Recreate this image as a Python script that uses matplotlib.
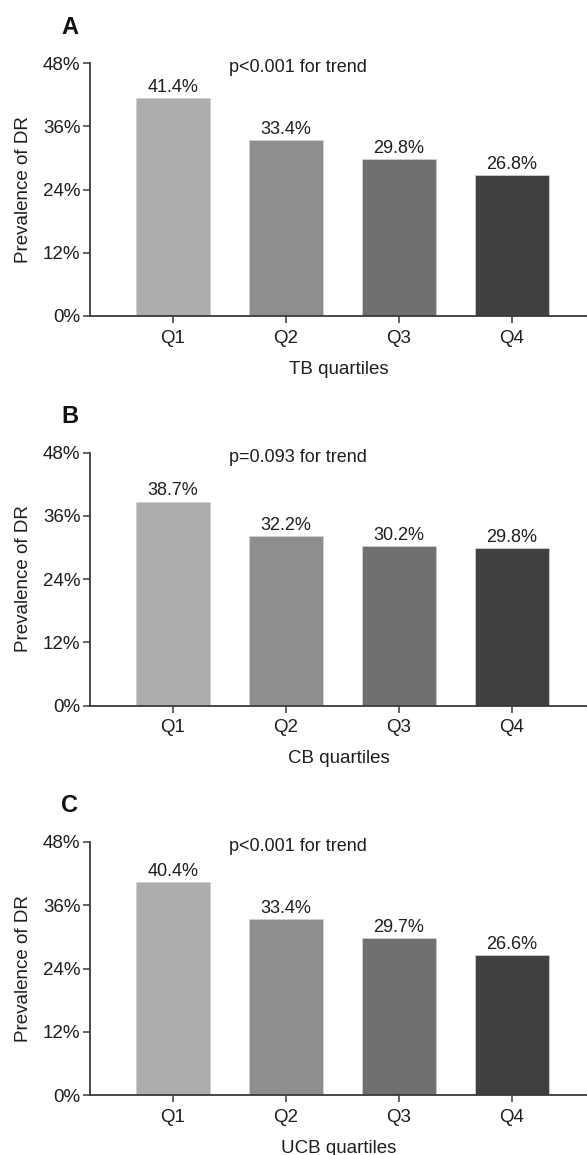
import matplotlib
matplotlib.use("Agg")
import matplotlib.pyplot as plt
from matplotlib.ticker import FuncFormatter

plt.rcParams['font.family'] = ['Liberation Sans', 'DejaVu Sans']

categories = ["Q1", "Q2", "Q3", "Q4"]
tb_values = [41.4, 33.4, 29.8, 26.8]
cb_values = [38.7, 32.2, 30.2, 29.8]
ucb_values = [40.4, 33.4, 29.7, 26.6]
panel_letters = ["A", "B", "C"]
xlabels = ["TB quartiles", "CB quartiles", "UCB quartiles"]
p_texts = ["p<0.001 for trend", "p=0.093 for trend", "p<0.001 for trend"]
yticks = [0, 12, 24, 36, 48]
bar_colors = ["#adadad", "#8e8e8e", "#707070", "#404040"]

W, H = 587, 1155
fig = plt.figure(figsize=(W / 100, H / 100), dpi=100)

# axes pixel boxes: (left, top, bottom)
boxes = [(90, 63, 316), (90, 452.5, 705.5), (90, 842, 1095)]
series = [tb_values, cb_values, ucb_values]
axis_color = "#3a3a3a"
txt_color = "#1e1e1e"

for i in range(3):
    left, top, bottom = boxes[i]
    ax = fig.add_axes([left / W, 1 - bottom / H, (W - left) / W, (bottom - top) / H])
    x = list(range(1, len(categories) + 1))
    ax.bar(x, series[i], width=0.66, color=bar_colors, edgecolor="#d0d0d0", linewidth=0.6)
    for xi, v in zip(x, series[i]):
        ax.annotate(f"{v:.1f}%", (xi, v), xytext=(0, 1.5), textcoords="offset points",
                    ha="center", va="bottom", fontsize=13, color=txt_color)
    ax.set_xlim(0.265, 4.664)
    ax.set_ylim(0, 48)
    ax.set_yticks(yticks)
    ax.yaxis.set_major_formatter(FuncFormatter(lambda v, p: f"{v:.0f}%"))
    ax.set_xticks(x)
    ax.set_xticklabels(categories)
    for s in ["top", "right"]:
        ax.spines[s].set_visible(False)
    for s in ["left", "bottom"]:
        ax.spines[s].set_color(axis_color)
        ax.spines[s].set_linewidth(1.3)
    ax.tick_params(axis="both", length=5, width=1.1, color=axis_color, labelcolor=txt_color)
    ax.tick_params(axis="x", labelsize=13.5, pad=5)
    ax.tick_params(axis="y", labelsize=13.5, pad=1.8)
    ax.set_ylabel("Prevalence of DR", fontsize=13.5, color=txt_color, labelpad=8)
    ax.set_xlabel(xlabels[i], fontsize=13.5, color=txt_color, labelpad=10)
    ax.text(2.106, 47.1, p_texts[i], ha="center", va="center", fontsize=13, color=txt_color)
    fig.text(70 / W, 1 - (top - 36) / H, panel_letters[i], ha="center", va="center",
             fontsize=17, fontweight="bold", color="#111111")

fig.savefig("out.png", dpi=100)
